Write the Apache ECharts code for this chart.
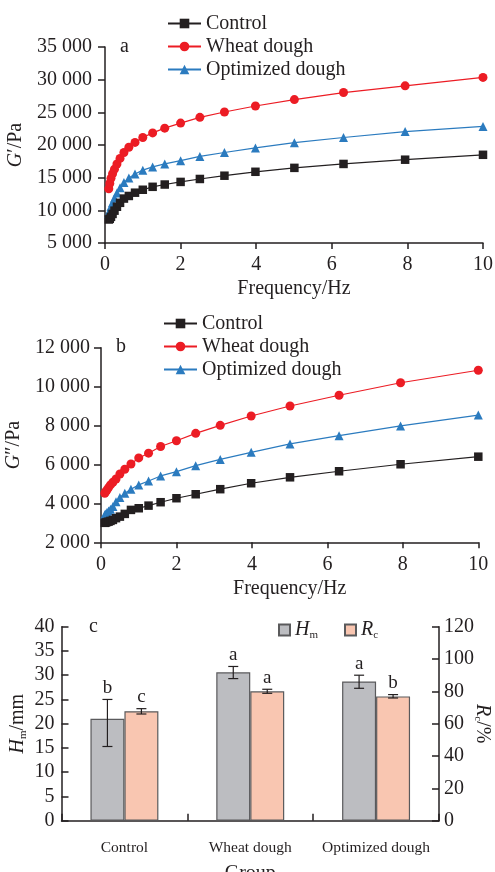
<!DOCTYPE html>
<html>
<head>
<meta charset="utf-8">
<script src="https://cdn.jsdelivr.net/npm/echarts@6/dist/echarts.min.js"></script>
<style>
html,body{margin:0;padding:0;background:#fff;}
#chart{width:495px;height:872px;}
</style>
</head>
<body>
<div id="chart"></div>
<script>
// ---------- data ----------
const freq = [0.1, 0.126, 0.158, 0.2, 0.251, 0.316, 0.398, 0.501, 0.631, 0.794, 1, 1.26, 1.58, 2, 2.51, 3.16, 3.98, 5.01, 6.31, 7.94, 10];
const seriesNames = ['Control', 'Wheat dough', 'Optimized dough'];

// Panel a: G' (Pa)
const gPrimeControl = [8600, 8700, 9000, 9450, 9950, 10550, 11150, 11800, 12200, 12700, 13150, 13600, 13950, 14350, 14800, 15300, 15900, 16500, 17100, 17750, 18500];
const gPrimeWheat = [13300, 14100, 14900, 15600, 16300, 17100, 17950, 18850, 19650, 20400, 21150, 21850, 22580, 23350, 24230, 25050, 25970, 26950, 28030, 29050, 30350];
const gPrimeOptimized = [9500, 10000, 10600, 11200, 11900, 12650, 13450, 14250, 14950, 15550, 16150, 16650, 17100, 17600, 18250, 18850, 19550, 20350, 21150, 22050, 22850];

// Panel b: G'' (Pa)
const gDoubleControl = [3000, 3020, 3040, 3060, 3100, 3150, 3240, 3320, 3460, 3665, 3750, 3885, 4060, 4265, 4470, 4730, 5035, 5340, 5650, 6010, 6400];
const gDoubleWheat = [4520, 4600, 4690, 4810, 4950, 5085, 5255, 5510, 5755, 6025, 6335, 6580, 6920, 7220, 7600, 8010, 8490, 9006, 9555, 10200, 10840];
const gDoubleOptimized = [3410, 3460, 3525, 3610, 3700, 3840, 4090, 4300, 4520, 4730, 4950, 5150, 5410, 5630, 5940, 6260, 6625, 7055, 7480, 7980, 8540];

// Panel c
const groups = ['Control', 'Wheat dough', 'Optimized dough'];
const hmValues = [21.0, 30.6, 28.7];
const hmErrLow = [15.3, 29.3, 27.3];
const hmErrHigh = [25.0, 31.8, 30.0];
const hmLetters = ['b', 'a', 'a'];
const rcValues = [67.7, 80.0, 76.9];
const rcErrLow = [66.0, 78.8, 75.9];
const rcErrHigh = [69.3, 81.3, 78.0];
const rcLetters = ['c', 'a', 'b'];

// ---------- style ----------
const FONT = '"Liberation Serif", "Times New Roman", serif';
const INK = '#231F20';
const RED = '#EC1C24';
const BLUE = '#2B7BBF';
const HM_FILL = '#BCBDC1';
const RC_FILL = '#F9C6B1';
const BAR_BORDER = '#5A5A5C';
const FS = 20;

function thousands(v) {
  if (v >= 1000) {
    const k = Math.floor(v / 1000);
    const r = v % 1000;
    return k + ' ' + String(r).padStart(3, '0');
  }
  return String(v);
}
function pairs(xs, ys) { return xs.map((x, i) => [x, ys[i]]); }

const axisLine = { show: true, lineStyle: { color: INK, width: 1.5 } };
const tickStyle = { lineStyle: { color: INK, width: 1.5 } };

function valueX(gridIndex) {
  return {
    type: 'value', gridIndex, min: 0, max: 10, interval: 2,
    name: 'Frequency/Hz', nameLocation: 'middle', nameGap: 36,
    nameTextStyle: { fontFamily: FONT, fontSize: FS, color: INK },
    axisLine, axisTick: { show: true, inside: false, length: 6, ...tickStyle },
    axisLabel: { fontFamily: FONT, fontSize: FS, color: INK, margin: 12 },
    splitLine: { show: false }
  };
}
function valueY(gridIndex, min, max, interval, name, gap, margin) {
  return {
    type: 'value', gridIndex, min, max, interval,
    name, nameLocation: 'middle', nameGap: gap, nameRotate: 90,
    nameTextStyle: { fontFamily: FONT, fontSize: FS, color: INK, rich: { i: { fontFamily: FONT, fontSize: FS, fontStyle: 'italic', color: INK } } },
    axisLine, axisTick: { show: true, inside: false, length: 7, ...tickStyle },
    axisLabel: { fontFamily: FONT, fontSize: FS, color: INK, margin, formatter: thousands },
    splitLine: { show: false }
  };
}

function lineSeries(name, color, symbol, xi, yi, data) {
  return {
    type: 'line', name, xAxisIndex: xi, yAxisIndex: yi,
    data, symbol, symbolSize: symbol === 'triangle' ? 9 : (symbol === 'rect' ? 8.5 : 9),
    lineStyle: { color, width: 1.2 }, itemStyle: { color },
    smooth: false, z: symbol === 'rect' ? 3 : 2
  };
}

function errRender(letters, offsetSign) {
  return function (params, api) {
    const cat = api.value(0);
    const lo = api.value(1);
    const hi = api.value(2);
    const band = api.size([1, 0])[0];
    const pLo = api.coord([cat, lo]);
    const pHi = api.coord([cat, hi]);
    const x = pLo[0] + offsetSign * band * 0.135;
    const cap = 5;
    const ls = { stroke: INK, lineWidth: 1.2 };
    return {
      type: 'group',
      children: [
        { type: 'line', shape: { x1: x, y1: pLo[1], x2: x, y2: pHi[1] }, style: ls },
        { type: 'line', shape: { x1: x - cap, y1: pLo[1], x2: x + cap, y2: pLo[1] }, style: ls },
        { type: 'line', shape: { x1: x - cap, y1: pHi[1], x2: x + cap, y2: pHi[1] }, style: ls },
        { type: 'text', x: x, y: pHi[1] - 2, style: { text: letters[params.dataIndex], font: '19px ' + FONT, fill: INK, textAlign: 'center', textVerticalAlign: 'bottom' } }
      ]
    };
  };
}

const legendText = { fontFamily: FONT, fontSize: FS, color: INK, lineHeight: 23 };
const subRich = {
  i: { fontFamily: FONT, fontSize: FS, fontStyle: 'italic', color: INK },
  s: { fontFamily: FONT, fontSize: 11, color: INK, padding: [10, 0, 0, 0] }
};

const option = {
  backgroundColor: '#fff',
  animation: false,
  grid: [
    { left: 105, top: 47, width: 378, height: 196, containLabel: false, outerBoundsMode: 'none' },
    { left: 101, top: 347.7, width: 377.3, height: 194.6, containLabel: false, outerBoundsMode: 'none' },
    { left: 61.5, top: 626.7, width: 377.5, height: 194, containLabel: false, outerBoundsMode: 'none' }
  ],
  legend: [
    {
      data: seriesNames, orient: 'vertical', left: 167, top: 12, itemGap: 0,
      itemWidth: 33, itemHeight: 12, textStyle: legendText, padding: 0, selectedMode: false
    },
    {
      data: seriesNames, orient: 'vertical', left: 163, top: 312, itemGap: 0,
      itemWidth: 33, itemHeight: 12, textStyle: legendText, padding: 0, selectedMode: false
    },
    {
      data: ['Hm', 'Rc'], orient: 'horizontal', left: 278, top: 620, itemGap: 26,
      itemWidth: 11, itemHeight: 11, padding: 0, selectedMode: false, icon: 'rect',
      formatter: function (n) { return n === 'Hm' ? '{i|H}{s|m}' : '{i|R}{s|c}'; },
      textStyle: { fontFamily: FONT, fontSize: FS, color: INK, rich: subRich }
    }
  ],
  xAxis: [
    valueX(0),
    valueX(1),
    {
      type: 'category', gridIndex: 2, data: groups,
      name: 'Group', nameLocation: 'middle', nameGap: 43,
      nameTextStyle: { fontFamily: FONT, fontSize: FS, color: INK },
      axisLine, axisTick: { show: true, inside: true, length: 7, alignWithLabel: false, ...tickStyle },
      axisLabel: { fontFamily: FONT, fontSize: 15.5, color: INK, margin: 19, interval: 0 },
      splitLine: { show: false }
    }
  ],
  yAxis: [
    valueY(0, 5000, 35000, 5000, '{i|G}′/Pa', 72, 13),
    valueY(1, 2000, 12000, 2000, '{i|G}″/Pa', 68, 11),
    {
      type: 'value', gridIndex: 2, min: 0, max: 40, interval: 5, position: 'left',
      name: '{i|H}{s|m}/mm', nameLocation: 'middle', nameGap: 33, nameRotate: 90, nameMoveOverlap: false,
      nameTextStyle: { fontFamily: FONT, fontSize: FS, color: INK, rich: subRich },
      axisLine, axisTick: { show: true, inside: true, length: 7, ...tickStyle },
      axisLabel: { fontFamily: FONT, fontSize: FS, color: INK, margin: 7 },
      splitLine: { show: false }
    },
    {
      type: 'value', gridIndex: 2, min: 0, max: 120, interval: 20, position: 'right',
      name: '{i|R}{s|c}/%', nameLocation: 'middle', nameGap: 33, nameRotate: -90, nameMoveOverlap: false,
      nameTextStyle: { fontFamily: FONT, fontSize: FS, color: INK, rich: subRich },
      axisLine, axisTick: { show: true, inside: true, length: 7, ...tickStyle },
      axisLabel: { fontFamily: FONT, fontSize: FS, color: INK, margin: 5 },
      splitLine: { show: false }
    }
  ],
  graphic: [
    { type: 'text', left: 120, top: 37, style: { text: 'a', font: FS + 'px ' + FONT, fill: INK } },
    { type: 'text', left: 116, top: 337, style: { text: 'b', font: FS + 'px ' + FONT, fill: INK } },
    { type: 'text', left: 89, top: 617, style: { text: 'c', font: FS + 'px ' + FONT, fill: INK } }
  ],
  series: [
    lineSeries('Control', INK, 'rect', 0, 0, pairs(freq, gPrimeControl)),
    lineSeries('Wheat dough', RED, 'circle', 0, 0, pairs(freq, gPrimeWheat)),
    lineSeries('Optimized dough', BLUE, 'triangle', 0, 0, pairs(freq, gPrimeOptimized)),
    lineSeries('Control', INK, 'rect', 1, 1, pairs(freq, gDoubleControl)),
    lineSeries('Wheat dough', RED, 'circle', 1, 1, pairs(freq, gDoubleWheat)),
    lineSeries('Optimized dough', BLUE, 'triangle', 1, 1, pairs(freq, gDoubleOptimized)),
    {
      type: 'bar', name: 'Hm', xAxisIndex: 2, yAxisIndex: 2, data: hmValues,
      barGap: '0%', barCategoryGap: '46%',
      itemStyle: { color: HM_FILL, borderColor: BAR_BORDER, borderWidth: 1.2 }
    },
    {
      type: 'bar', name: 'Rc', xAxisIndex: 2, yAxisIndex: 3, data: rcValues,
      barGap: '0%', barCategoryGap: '46%',
      itemStyle: { color: RC_FILL, borderColor: BAR_BORDER, borderWidth: 1.2 }
    },
    {
      type: 'custom', name: 'HmErr', xAxisIndex: 2, yAxisIndex: 2, z: 5,
      renderItem: errRender(hmLetters, -1),
      data: groups.map((g, i) => [i, hmErrLow[i], hmErrHigh[i]])
    },
    {
      type: 'custom', name: 'RcErr', xAxisIndex: 2, yAxisIndex: 3, z: 5,
      renderItem: errRender(rcLetters, 1),
      data: groups.map((g, i) => [i, rcErrLow[i], rcErrHigh[i]])
    }
  ]
};

const chart = echarts.init(document.getElementById('chart'), null, { renderer: 'canvas' });
chart.setOption(option);
</script>
</body>
</html>
